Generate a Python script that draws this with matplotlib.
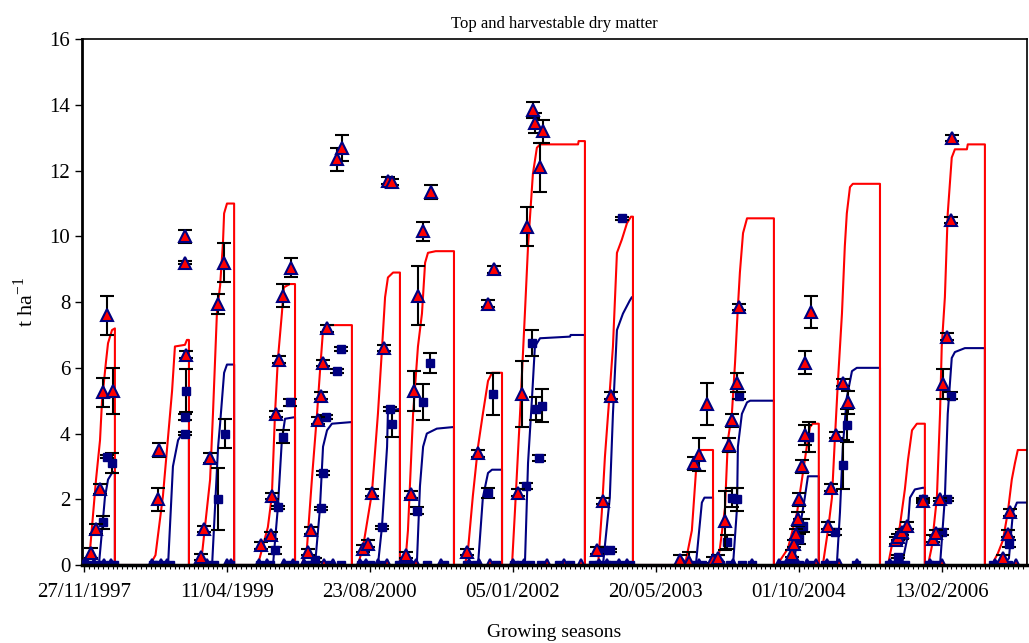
import datetime as dt
import matplotlib
matplotlib.use('Agg')
import matplotlib.pyplot as plt
from matplotlib.ticker import FuncFormatter, MultipleLocator

# days since 27/11/1997
start = dt.date(1997, 11, 27)

# simulated top dry matter (red) - one list of points per season
top_sim = [
    [(10, 0), (21, 0.45), (42, 2.6), (56, 3.8), (63, 5.0), (77, 6.2), (84, 6.75), (98, 7.15), (108, 7.2)],
    [(231, 0), (250, 0.3), (276, 2.1), (308, 5.3), (318, 6.65), (353, 6.7), (360, 6.85), (367, 6.85)],
    [(395, 0), (413, 0.35), (441, 2.6), (451, 4.6), (465, 7.7), (476, 8.5), (486, 9.8), (490, 10.7), (500, 11.0), (525, 11.0)],
    [(608, 0), (643, 1.15), (657, 2.1), (668, 4.6), (678, 6.25), (692, 7.65), (699, 8.45), (720, 8.55), (738, 8.55)],
    [(762, 0), (780, 0.55), (797, 2.6), (815, 4.6), (825, 5.85), (836, 7.15), (850, 7.3), (937, 7.3)],
    [(958, 0), (976, 0.55), (1007, 2.2), (1028, 4.6), (1042, 6.55), (1053, 8.15), (1063, 8.75), (1081, 8.9), (1105, 8.9)],
    [(1123, 0), (1133, 1.05), (1151, 4.6), (1168, 6.65), (1182, 7.65), (1193, 9.2), (1203, 9.5), (1230, 9.55), (1294, 9.55)],
    [(1332, 0), (1343, 0.45), (1360, 2.1), (1378, 3.6), (1395, 4.6), (1413, 5.6), (1427, 5.85), (1462, 5.85)],
    [(1497, 0), (1507, 1.6), (1525, 4.6), (1542, 7.65), (1553, 9.7), (1570, 11.9), (1584, 12.7), (1595, 12.8), (1728, 12.8), (1730, 12.9), (1752, 12.9)],
    [(1798, 0), (1811, 1.6), (1822, 3.3), (1839, 5.3), (1850, 6.65), (1864, 9.5), (1881, 9.9), (1899, 10.4), (1913, 10.6), (1920, 10.6)],
    [(2102, 0), (2126, 1.05), (2144, 3.3), (2158, 3.5), (2200, 3.5)],
    [(2214, 0), (2224, 0.5), (2242, 1.75), (2252, 3.8), (2266, 4.6), (2277, 6.15), (2287, 7.85), (2294, 8.9), (2305, 10.1), (2319, 10.55), (2413, 10.55)],
    [(2424, 0), (2462, 0.5), (2494, 1.6), (2511, 2.6), (2528, 3.6), (2539, 4.2), (2549, 4.3), (2570, 4.3)],
    [(2584, 0), (2602, 1.05), (2616, 2.05), (2626, 3.8), (2637, 5.6), (2651, 7.65), (2661, 9.7), (2668, 10.7), (2679, 11.5), (2689, 11.6), (2784, 11.6)],
    [(2812, 0), (2829, 0.75), (2853, 1.15), (2871, 2.3), (2882, 3.2), (2896, 4.1), (2913, 4.3), (2941, 4.3)],
    [(2952, 0), (2965, 0.55), (2983, 2.05), (2994, 4.6), (3000, 6.65), (3011, 8.15), (3021, 10.7), (3035, 12.4), (3046, 12.65), (3088, 12.65), (3091, 12.8), (3151, 12.8)],
    [(3175, 0), (3196, 0.35), (3214, 0.75), (3231, 1.6), (3245, 2.6), (3256, 3.1), (3266, 3.5), (3300, 3.5)],
]

# simulated harvestable dry matter (blue)
harv_sim = [
    [(52, 0), (63, 1.05), (73, 2.05), (84, 2.6), (98, 2.8), (108, 2.85)],
    [(294, 0), (311, 3.0), (329, 3.8), (340, 3.95), (367, 3.95)],
    [(448, 0), (469, 3.6), (476, 4.3), (490, 5.85), (500, 6.1), (525, 6.1)],
    [(661, 0), (678, 1.75), (692, 3.8), (703, 4.45), (738, 4.5)],
    [(808, 0), (825, 1.7), (836, 3.6), (850, 4.1), (867, 4.3), (937, 4.35)],
    [(1028, 0), (1042, 1.15), (1060, 3.6), (1063, 4.7), (1105, 4.75)],
    [(1164, 0), (1175, 2.4), (1186, 3.6), (1199, 4.0), (1234, 4.15), (1294, 4.2)],
    [(1378, 0), (1395, 2.05), (1413, 2.8), (1427, 2.9), (1462, 2.9)],
    [(1542, 0), (1553, 3.1), (1567, 5.1), (1577, 6.65), (1595, 6.9), (1700, 6.95), (1702, 7.0), (1752, 7.0)],
    [(1815, 0), (1839, 2.05), (1850, 4.6), (1864, 7.15), (1885, 7.65), (1909, 8.05), (1916, 8.15), (1920, 8.15)],
    [(2140, 0), (2161, 1.9), (2170, 2.05), (2200, 2.05)],
    [(2270, 0), (2284, 1.75), (2287, 3.6), (2301, 4.6), (2319, 4.95), (2330, 5.0), (2413, 5.0)],
    [(2480, 0), (2504, 1.15), (2521, 2.05), (2532, 2.7), (2570, 2.7)],
    [(2633, 0), (2644, 1.6), (2654, 3.6), (2668, 5.1), (2686, 5.9), (2703, 6.0), (2784, 6.0)],
    [(2860, 0), (2878, 0.75), (2889, 2.05), (2906, 2.3), (2934, 2.35), (2941, 2.35)],
    [(2994, 0), (3011, 2.05), (3021, 4.6), (3035, 6.3), (3046, 6.48), (3081, 6.6), (3151, 6.6)],
    [(3210, 0), (3235, 0.2), (3249, 1.6), (3263, 1.9), (3300, 1.9)],
]

# observed top dry matter: day, value, std
top_obs_day = [24, 42, 56, 66, 80, 101,
               262, 259, 357, 353, 353,
               420, 409, 441, 469, 490,
               619, 654, 657, 671, 682, 696, 724,
               783, 794, 818, 829, 836, 850, 885, 902,
               976, 993, 1007, 1049, 1063, 1077,
               1126, 1144, 1154, 1168, 1186, 1213,
               1339, 1378, 1413, 1434,
               1518, 1532, 1549, 1595, 1570, 1577, 1605,
               1794, 1815, 1843,
               2084, 2116, 2133, 2151, 2179,
               2200, 2217, 2242, 2256, 2266, 2284, 2291,
               2476, 2483, 2490, 2497, 2500, 2511, 2521, 2521, 2542,
               2602, 2612, 2630, 2654, 2672,
               2839, 2847, 2860, 2878, 2934,
               2969, 2979, 2994, 3004, 3018, 3032, 3035,
               3214, 3231, 3238]
top_obs_val = [0.37, 1.1, 2.3, 5.25, 7.6, 5.3,
               3.5, 2.0, 6.4, 10.0, 9.2,
               1.1, 0.25, 3.25, 7.95, 9.2,
               0.6, 0.9, 2.1, 4.6, 6.25, 8.2, 9.05,
               0.4, 1.05, 4.4, 5.15, 6.15, 7.2, 12.35, 12.7,
               0.5, 0.65, 2.2, 6.6, 11.7, 11.65,
               0.3, 2.15, 5.3, 8.2, 10.15, 11.35,
               0.4, 3.4, 7.95, 9.0,
               2.2, 5.2, 10.3, 12.1, 13.85, 13.45, 13.2,
               0.45, 1.95, 5.15,
               0.15, 0.1, 3.1, 3.35, 4.9,
               0.15, 0.2, 1.35, 3.65, 4.4, 5.55, 7.85,
               0.35, 0.65, 0.95, 1.4, 2.0, 3.0, 3.95, 6.15, 7.7,
               1.2, 2.35, 3.95, 5.55, 4.95,
               0.75, 0.85, 1.0, 1.2, 1.95,
               0.8, 0.97, 2.0, 5.5, 6.95, 10.5, 13.0,
               0.2, 0.95, 1.6]
top_obs_err = [0.15, 0.15, 0.15, 0.45, 0.6, 0.7,
               0.2, 0.35, 0.1, 0.2, 0.05,
               0.1, 0.1, 0.15, 0.3, 0.6,
               0.1, 0.1, 0.1, 0.1, 0.1, 0.35, 0.3,
               0.1, 0.1, 0.1, 0.1, 0.1, 0.1, 0.35, 0.4,
               0.1, 0.1, 0.1, 0.1, 0.1, 0.1,
               0.1, 0.1, 0.6, 0.9, 0.3, 0.2,
               0.1, 0.1, 0.1, 0.1,
               0.1, 1.0, 0.6, 0.75, 0.25, 0.3, 0.35,
               0.1, 0.1, 0.1,
               0.15, 0.3, 0.2, 0.5, 0.65,
               0.1, 0.1, 0.9, 0.2, 0.2, 0.3, 0.1,
               0.1, 0.1, 0.15, 0.2, 0.2, 0.2, 0.3, 0.35, 0.5,
               0.1, 0.1, 0.1, 0.1, 0.35,
               0.1, 0.1, 0.1, 0.1, 0.05,
               0.1, 0.1, 0.05, 0.45, 0.1, 0.1, 0.1,
               0.1, 0.1, 0.1]

# observed harvestable dry matter
harv_obs_day = [66, 80, 98,
                357, 353, 353,
                469, 493,
                668, 678, 696, 720,
                808, 829, 836, 846, 885, 899,
                1042, 1070, 1077,
                1164, 1186, 1210,
                1413, 1430,
                1546, 1567, 1581, 1602, 1591,
                1881, 1839, 1815,
                2249, 2266, 2284, 2291,
                2504, 2514, 2535, 2500,
                2626, 2654, 2668,
                2847, 2860, 2934,
                3000, 3018, 3032,
                3235]
harv_obs_val = [1.3, 3.3, 3.1,
                5.3, 4.5, 4.0,
                2.0, 4.0,
                0.45, 1.75, 3.9, 4.95,
                0.15, 1.73, 2.8, 4.5, 5.9, 6.57,
                1.15, 4.75, 4.3,
                1.65, 4.95, 6.15,
                2.2, 5.2,
                2.4, 6.75, 4.75, 4.85, 3.25,
                10.55, 0.45, 0.45,
                0.7, 2.05, 2.0, 5.15,
                1.2, 1.2, 3.9, 0.8,
                1.0, 3.05, 4.25,
                0.25, 0.9, 2.0,
                1.0, 2.0, 5.15,
                0.65]
harv_obs_err = [0.2, 0.05, 0.3,
                0.65, 0.1, 0.05,
                0.95, 0.45,
                0.1, 0.05, 0.2, 0.1,
                0.05, 0.05, 0.05, 0.05, 0.05, 0.05,
                0.05, 0.05, 0.4,
                0.1, 0.55, 0.3,
                0.15, 0.65,
                0.1, 0.4, 0.35, 0.5, 0.1,
                0.05, 0.05, 0.05,
                0.2, 0.3, 0.35, 0.1,
                0.2, 0.2, 0.45, 0.15,
                0.1, 0.75, 0.5,
                0.05, 0.1, 0.05,
                0.1, 0.05, 0.1,
                0.1]

# observations recorded as zero
zero_top_day = [0, 12, 35, 70, 95, 238, 270, 290, 400, 430, 500, 515, 612, 640, 700, 730,
                770, 800, 840, 870, 965, 985, 1030, 1060, 1130, 1160, 1250, 1345, 1380, 1420,
                1500, 1540, 1620, 1680, 1740, 1800, 1830, 1870, 1900, 2095, 2150, 2230, 2270,
                2336, 2430, 2480, 2530, 2560, 2600, 2640, 2705, 2820, 2850, 2960, 3000,
                3186, 3220, 3260]
zero_harv_day = [5, 20, 45, 60, 90, 105, 240, 260, 285, 300, 405, 425, 455, 510, 615, 650,
                 705, 735, 775, 805, 860, 900, 970, 1000, 1040, 1100, 1135, 1200, 1260, 1340,
                 1370, 1440, 1505, 1530, 1560, 1600, 1660, 1700, 1780, 1800, 1825, 1850, 1880,
                 1910, 2090, 2125, 2160, 2225, 2260, 2300, 2335, 2440, 2470, 2500, 2540, 2590,
                 2620, 2700, 2815, 2835, 2870, 2955, 2975, 3180, 3200, 3230]

red = '#FF0000'
navy = '#000080'


def flatten(seasons):
    xs, ys = [-7], [0]
    for pts in seasons:
        for d, v in pts:
            xs.append(d)
            ys.append(v)
        xs.append(pts[-1][0])
        ys.append(0)
    return xs, ys


plt.rcParams['font.family'] = ['Liberation Serif', 'DejaVu Serif']
plt.rcParams['mathtext.fontset'] = 'custom'
plt.rcParams['mathtext.rm'] = 'Liberation Serif'
fig = plt.figure(figsize=(10.29, 6.43), dpi=100)
ax = fig.add_axes([0.0797, 0.1213, 0.9183, 0.8177])

tx, ty = flatten(top_sim)
hx, hy = flatten(harv_sim)
ax.plot(hx, hy, color=navy, lw=1.5, zorder=2)
ax.plot(tx, ty, color=red, lw=1.5, zorder=2)

ax.errorbar(harv_obs_day, harv_obs_val, yerr=harv_obs_err, fmt='s', color=navy,
            ms=5.5, mec=navy, ecolor='black', elinewidth=1.5, capsize=5, capthick=1.5, zorder=3)
ax.errorbar(top_obs_day, top_obs_val, yerr=top_obs_err, fmt='^', mfc=red, mec=navy,
            mew=1.5, ms=9, ecolor='black', elinewidth=1.5, capsize=5, capthick=1.5, zorder=4)
# zero observations sit on the axis and are half hidden by it
ax.plot(zero_top_day, [0] * len(zero_top_day), '^', mfc=red, mec=navy, mew=1.5, ms=9, zorder=4)
ax.plot(zero_harv_day, [0] * len(zero_harv_day), 's', color=navy, ms=6, zorder=4)

ax.set_xlim(-7, 3298)
ax.set_ylim(0, 16)
ax.set_xticks(range(0, 3001, 500))
ax.xaxis.set_minor_locator(MultipleLocator(500 / 30))
ax.xaxis.set_major_formatter(FuncFormatter(
    lambda v, p: (start + dt.timedelta(days=int(round(v)))).strftime('%d/%m/%Y')))
ax.yaxis.set_major_locator(MultipleLocator(2))
ax.tick_params(axis='both', labelsize=15, direction='out', length=5, width=1)
ax.tick_params(axis='x', which='minor', length=3, width=0.8)
ax.tick_params(axis='x', pad=8)

ax.spines['left'].set_linewidth(2)
ax.spines['bottom'].set_linewidth(2.5)
ax.spines['bottom'].set_zorder(5)
ax.spines['top'].set_linewidth(1.2)
ax.spines['right'].set_linewidth(1.2)

ax.set_title('Top and harvestable dry matter', fontsize=12, pad=8)
ax.set_xlabel('Growing seasons', fontsize=14, labelpad=16)
ax.set_ylabel('t ha$^{-1}$', fontsize=16, labelpad=8)

fig.savefig('out.png', dpi=100)
